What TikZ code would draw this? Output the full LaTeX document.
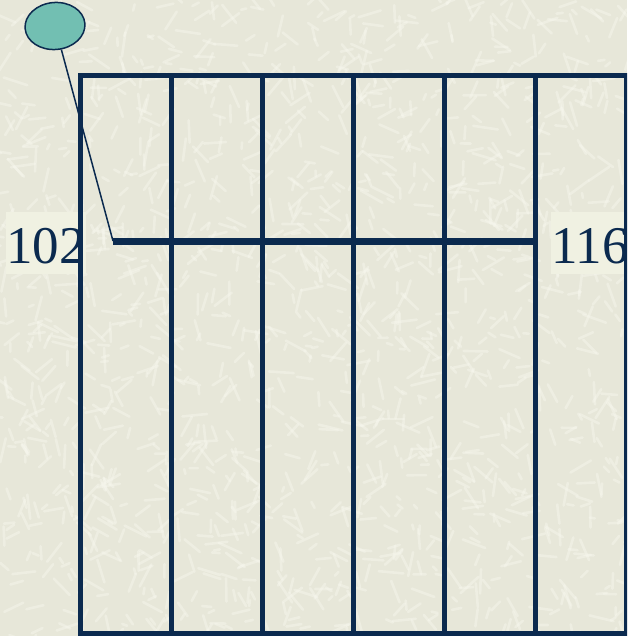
\documentclass[tikz,border=0pt]{standalone}
\usepackage{fontspec}
\setmainfont{Liberation Serif}
\usetikzlibrary{shapes.geometric}
\definecolor{navy}{HTML}{0B2A4F}
\definecolor{bgbeige}{HTML}{E7E7D9}
\definecolor{streak}{HTML}{F7F7EE}
\definecolor{labelbg}{HTML}{F0F1E2}
\definecolor{capfill}{HTML}{72BFB2}
\begin{document}
\begin{tikzpicture}[x=1pt,y=-1pt,
  gridline/.style={draw=navy,line width=5.5pt},
  barline/.style={draw=navy,line width=7pt},
  lbl/.style={fill=labelbg,text=navy,font=\fontsize{53}{53}\selectfont,inner sep=0pt,text height=51pt,text depth=11pt,anchor=base west},
  knob/.style={ellipse,draw=navy,line width=1.5pt,fill=capfill,minimum width=60pt,minimum height=47pt,inner sep=0pt},
  wire/.style={draw=navy,line width=1.5pt},
  texture/.style={draw=streak,opacity=0.45,line width=2.6pt,line cap=round}]
\useasboundingbox (0,0) rectangle (627,636);
\begin{scope}
\clip (0,0) rectangle (627,636);
\fill[bgbeige] (0,0) rectangle (627,636);
\pgfmathsetseed{42}
\foreach \i in {1,...,1500}{
  \pgfmathsetmacro\px{627*rnd}
  \pgfmathsetmacro\py{636*rnd}
  \pgfmathsetmacro\pa{360*rnd}
  \pgfmathsetmacro\pl{5+20*rnd}
  \draw[texture] (\px,\py) -- ++(\pa:\pl);
}
% labels (behind the grid)
\node[lbl] (l102) at (6,263) {102};
\node[lbl] (l116) at (551,263) {116};
% grid
\draw[gridline] (80.5,75.5) rectangle (626.5,633.5);
\foreach \gx in {171.5,262.5,353.5,444.5,535.5}{
  \draw[gridline] (\gx,75.5) -- (\gx,633.5);
}
% bar and knob
\coordinate (barL) at (113,241);
\coordinate (barR) at (535.5,241);
\draw[barline] (barL) -- (barR);
\node[knob,rotate=5] (knob) at (55,26) {};
\draw[wire] (knob) -- (barL);
\end{scope}
\end{tikzpicture}
\end{document}
